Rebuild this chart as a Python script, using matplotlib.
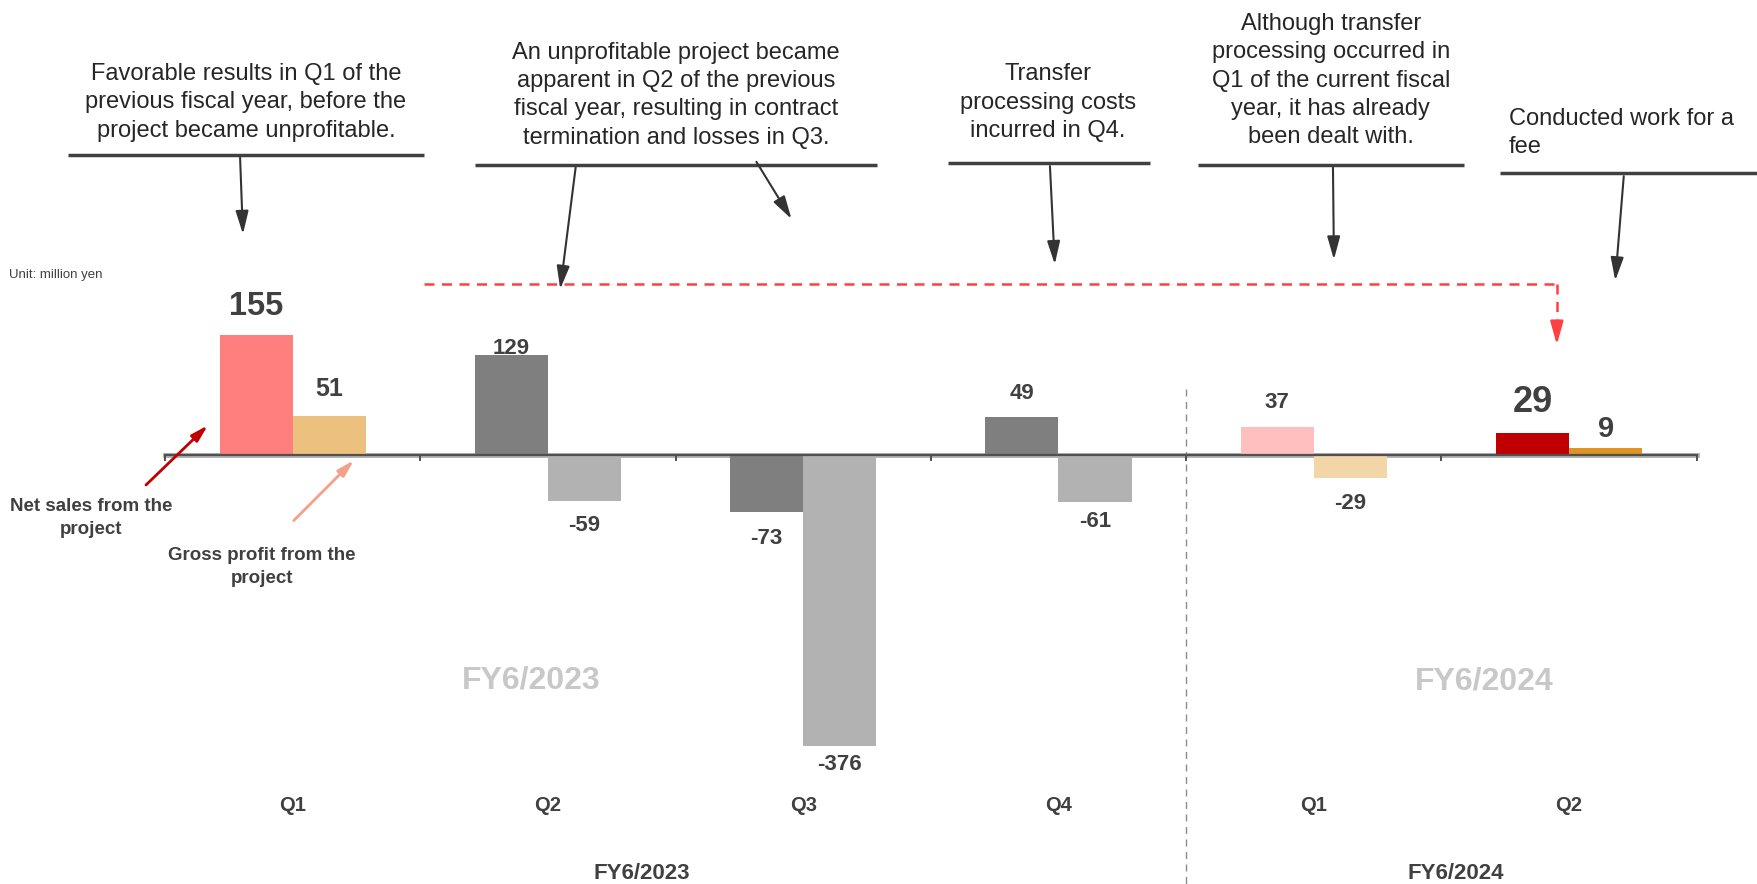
import matplotlib.pyplot as plt
from matplotlib.patches import FancyArrowPatch

plt.rcParams['font.family'] = ['Liberation Sans', 'DejaVu Sans']

# quarterly figures, million yen
quarters = ['Q1', 'Q2', 'Q3', 'Q4', 'Q1', 'Q2']
fiscal_years = ['FY6/2023', 'FY6/2024']
net_sales = [155, 129, -73, 49, 37, 29]
gross_profit = [51, -59, -376, -61, -29, 9]

sales_colors = ['#FF7F7F', '#7F7F7F', '#7F7F7F', '#7F7F7F', '#FFBFBF', '#C00000']
profit_colors = ['#ECC07D', '#B2B2B2', '#B2B2B2', '#B2B2B2', '#F2D6A8', '#DF9524']

# label styling: font size and offset from bar end (points)
sales_lbl_size = [23.5, 16, 16, 16, 16, 26]
sales_lbl_off = [21, 5, 19, 17, 17, 22]
profit_lbl_size = [18, 16, 16, 16, 16, 21]
profit_lbl_off = [19, 18, 13, 14, 19, 14]

notes = [
    "Favorable results in Q1 of the\nprevious fiscal year, before the\nproject became unprofitable.",
    "An unprofitable project became\napparent in Q2 of the previous\nfiscal year, resulting in contract\ntermination and losses in Q3.",
    "Transfer\nprocessing costs\nincurred in Q4.",
    "Although transfer\nprocessing occurred in\nQ1 of the current fiscal\nyear, it has already\nbeen dealt with.",
    "Conducted work for a\nfee",
]

TXT = '#404040'
bw = 0.286

fig = plt.figure(figsize=(17.57, 8.84), dpi=100)
ax = fig.add_axes([0, 0, 1, 1])
ax.set_xlim(-1.146, 5.736)
ax.set_ylim(-554, 588)
ax.axis('off')

x = list(range(len(quarters)))
xs = [i - bw / 2 for i in x]
xp = [i + bw / 2 for i in x]
ax.bar(xs, net_sales, width=bw, color=sales_colors, zorder=2)
ax.bar(xp, gross_profit, width=bw, color=profit_colors, zorder=2)

# zero line with boundary ticks
ax.plot([-0.5, 5.5], [0, 0], color='#B0B0B0', lw=3.5, zorder=1)
ax.plot([-0.5, 5.5], [0, 0], color='#505050', lw=1.6, zorder=3)
ax.vlines([b - 0.5 for b in range(7)], -7.5, 0, color='#505050', lw=1.4, zorder=3)

for i in x:
    for xx, val, sz, off in ((xs[i], net_sales[i], sales_lbl_size[i], sales_lbl_off[i]),
                             (xp[i], gross_profit[i], profit_lbl_size[i], profit_lbl_off[i])):
        sign = 1 if val >= 0 else -1
        ax.annotate(f'{val}', (xx, val), xytext=(0, sign * off), textcoords='offset points',
                    ha='center', va='center', fontsize=sz, fontweight='bold', color=TXT)

# quarter and year labels
for i, q in enumerate(quarters):
    ax.text(i, -452, q, ha='center', va='center', fontsize=14.5, fontweight='bold', color=TXT)
ax.text(1.368, -540, fiscal_years[0], ha='center', va='center', fontsize=16, fontweight='bold', color=TXT)
ax.text(4.557, -540, fiscal_years[1], ha='center', va='center', fontsize=16, fontweight='bold', color=TXT)

# faint year watermarks
ax.text(0.934, -291, fiscal_years[0], ha='center', va='center', fontsize=23, fontweight='bold', color='#C8C8C8')
ax.text(4.666, -293, fiscal_years[1], ha='center', va='center', fontsize=23, fontweight='bold', color='#C8C8C8')

# year separator
ax.plot([3.5, 3.5], [85, -560], color='#8C8C8C', lw=1, ls=(0, (5, 4)), zorder=1)

ax.text(-1.111, 232.6, 'Unit: million yen', ha='left', va='center', fontsize=9.5, color=TXT)

# legend-style callouts on the first group
ax.text(-0.790, -81, 'Net sales from the\nproject', ha='center', va='center',
        fontsize=13.5, fontweight='bold', color=TXT, linespacing=1.45)
ax.text(-0.120, -145, 'Gross profit from the\nproject', ha='center', va='center',
        fontsize=13.5, fontweight='bold', color=TXT, linespacing=1.45)


def arrow(p0, p1, color, lw=1.6, head=12):
    ax.add_patch(FancyArrowPatch(p0, p1, arrowstyle=f'-|>,head_length={head / 10:.1f},head_width={head / 36:.2f}',
                                 mutation_scale=10, color=color, lw=lw, zorder=4))


arrow((-0.582, -41), (-0.324, 41), '#C00000', lw=2, head=10)
arrow((-0.003, -87), (0.248, -4), '#F4A08A', lw=2, head=10)

# explanatory notes: text, underline, arrow
note_text = [(-0.183, 456, 'center'), (1.502, 465, 'center'), (2.959, 455, 'center'),
             (4.067, 484, 'center'), (4.764, 416, 'left')]
note_line = [(-0.880, 0.514, 388), (0.714, 2.289, 375), (2.567, 3.358, 377),
             (3.546, 4.588, 375), (4.729, 5.736, 364)]
note_arrows = [[((-0.206, 388), (-0.194, 282))],
               [((1.110, 375), (1.047, 211)), ((1.811, 382), (1.960, 302))],
               [((2.966, 377), (2.986, 243))],
               [((4.075, 375), (4.079, 249))],
               [((5.215, 364), (5.180, 222))]]

for txt, (tx, ty, ha), (l0, l1, ly), arrs in zip(notes, note_text, note_line, note_arrows):
    ax.text(tx, ty, txt, ha=ha, va='center', fontsize=17, color='#262626',
            multialignment=ha, linespacing=1.38)
    ax.plot([l0, l1], [ly, ly], color='#404040', lw=2.5, solid_capstyle='butt')
    for p0, p1 in arrs:
        arrow(p0, p1, '#333333', lw=1.5, head=14)

# red dashed link into the latest quarter
ax.plot([0.514, 4.952], [221, 221], color='#FF4040', lw=1.8, ls=(0, (4, 3)))
ax.plot([4.952, 4.952], [221, 160], color='#FF4040', lw=1.8, ls=(0, (4, 3)))
arrow((4.952, 165), (4.952, 139), '#FF4040', lw=1.8, head=14)

fig.savefig('out.png', dpi=100)
